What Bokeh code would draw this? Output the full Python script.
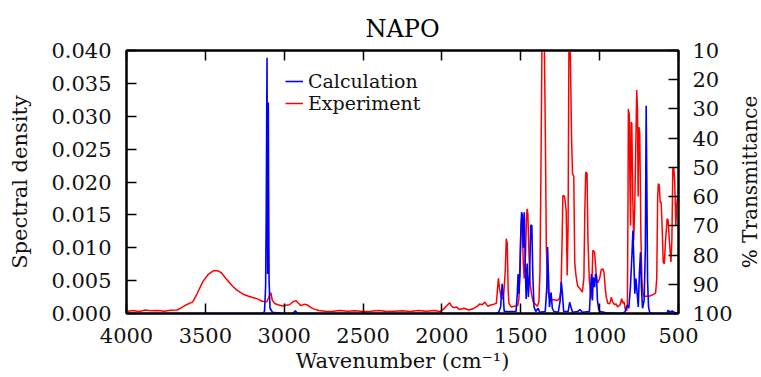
import math
from bokeh.plotting import figure
from bokeh.layouts import row
from bokeh.models import (Range1d, LinearAxis, SingleIntervalTicker, NumeralTickFormatter,
                          Legend, LegendItem, Title)
from bokeh.embed import file_html
from bokeh.resources import INLINE

# ---- data ----
calc_wn = [4000, 3140, 3125, 3118, 3114, 3111, 3109, 3107, 3105, 3103, 3101, 3099, 3096, 3090, 3075,
           3000, 2945, 2930, 2915, 1660, 1640, 1628, 1618, 1612, 1605, 1530, 1522, 1517, 1512, 1506,
           1500, 1495, 1490, 1484, 1478, 1472, 1466, 1459, 1452, 1444, 1437, 1430, 1424, 1416, 1405,
           1390, 1380, 1345, 1335, 1330, 1325, 1318, 1308, 1300, 1290, 1262, 1250, 1243, 1236, 1228,
           1200, 1190, 1182, 1172, 1140, 1125, 1110, 1065, 1058, 1052, 1046, 1040, 1032, 1026, 1020,
           1014, 1005, 995, 960, 870, 840, 825, 815, 805, 795, 789, 783, 777, 770, 762, 755, 748, 741,
           735, 728, 718, 710, 705, 701, 696, 690, 683, 670, 575, 565, 555, 540, 520, 500]
calc_sd = [0, 0, 0.0003, 0.004, 0.015, 0.030, 0.0389, 0.020, 0.006, 0.020, 0.0321, 0.020, 0.005, 0.0008, 0.0002,
           0, 0, 0.0004, 0, 0, 0.0002, 0.0010, 0.0045, 0.0030, 0.0003, 0.0003, 0.0030, 0.0060, 0.0030, 0.0060,
           0.0120, 0.0154, 0.0150, 0.0100, 0.0154, 0.0080, 0.0022, 0.0076, 0.0025, 0.0060, 0.0134, 0.0134, 0.0060, 0.0010, 0.0003,
           0.0008, 0.0002, 0.0003, 0.0040, 0.0101, 0.0060, 0.0010, 0.0032, 0.0008, 0.0003, 0.0002, 0.0020, 0.0048, 0.0030, 0.0003,
           0.0003, 0.0017, 0.0010, 0.0002, 0.0003, 0.0006, 0.0002, 0.0003, 0.0035, 0.0060, 0.0020, 0.0055, 0.0040, 0.0060, 0.0058,
           0.0020, 0.0005, 0.0003, 0.0001, 0, 0.0002, 0.0013, 0.0008, 0.0040, 0.0090, 0.0126, 0.0080, 0.0030, 0.0053, 0.0030, 0.0010, 0.0060, 0.0093,
           0.0040, 0.0008, 0.0020, 0.0100, 0.0316, 0.0200, 0.0050, 0.0010, 0.0002, 0, 0, 0.0005, 0.0002, 0.0004, 0.0001, 0]

exp_wn = [4000, 3960, 3920, 3880, 3840, 3800, 3760, 3720, 3680, 3650, 3620, 3580, 3550, 3515, 3480, 3450,
          3420, 3400, 3370, 3330, 3300, 3260, 3230, 3200, 3170, 3140, 3110, 3095, 3085, 3075, 3060, 3040,
          3010, 2990, 2966, 2945, 2925, 2910, 2894, 2870, 2850, 2830, 2810, 2780, 2740, 2700, 2650, 2600,
          2550, 2500, 2450, 2400, 2350, 2300, 2250, 2200, 2150, 2100, 2050, 2010, 1990, 1960, 1950, 1940,
          1925, 1907, 1890, 1860, 1830, 1800, 1775, 1760, 1745, 1728, 1710, 1685, 1670, 1655, 1648, 1642,
          1636, 1625, 1610, 1598, 1592, 1586, 1580, 1575, 1560, 1540, 1520, 1512, 1505, 1500, 1496, 1490,
          1484, 1478, 1470, 1464, 1460, 1455, 1448, 1440, 1432, 1422, 1410, 1395, 1385, 1378, 1372, 1366,
          1350, 1344, 1338, 1330, 1325, 1315, 1290, 1270, 1255, 1245, 1238, 1233, 1222, 1212, 1206, 1200,
          1195, 1186, 1178, 1172, 1164, 1158, 1150, 1140, 1125, 1110, 1100, 1094, 1088, 1080, 1074, 1066,
          1055, 1048, 1043, 1032, 1024, 1020, 1011, 1000, 990, 980, 972, 965, 958, 948, 937, 930,
          926, 918, 905, 895, 886, 870, 860, 852, 845, 838, 828, 824, 820, 818, 812, 808,
          804, 800, 796, 790, 784, 778, 770, 765, 760, 756, 751, 746, 742, 738, 732, 726,
          718, 705, 690, 674, 660, 652, 645, 638, 632, 628, 622, 616, 610, 604, 597, 590,
          582, 572, 566, 558, 548, 542, 536, 530, 524, 517, 510, 505, 500]
exp_t = [99.3, 99.0, 99.3, 98.8, 99.1, 99.0, 99.2, 98.9, 98.8, 98.0, 97.0, 96.0, 93.0, 89.0, 86.5, 85.4,
         85.4, 86.0, 88.0, 90.5, 92.0, 93.4, 94.0, 94.5, 95.0, 95.8, 96.0, 94.0, 92.9, 95.5, 96.6, 97.0,
         97.4, 97.2, 97.0, 96.0, 95.6, 96.5, 97.3, 96.8, 97.2, 98.0, 98.5, 99.0, 99.2, 99.3, 99.0, 99.2,
         99.1, 99.3, 99.2, 99.0, 99.3, 99.2, 99.1, 99.3, 99.0, 99.2, 99.0, 99.3, 98.5, 96.8, 96.3, 97.5,
         98.0, 97.8, 98.6, 98.2, 98.8, 98.3, 97.5, 96.7, 97.0, 96.1, 97.5, 97.0, 96.8, 96.5, 92.0, 88.0,
         91.0, 94.4, 95.0, 85.0, 74.4, 76.0, 92.0, 96.5, 97.8, 97.5, 97.3, 95.0, 85.0, 72.0, 67.6, 72.0,
         83.0, 88.0, 80.0, 68.0, 64.2, 66.0, 80.0, 90.0, 93.3, 96.0, 96.7, 97.5, 96.0, 85.0, 50.0, 10.0,
         10.0, 40.0, 77.3, 90.0, 93.3, 95.6, 95.2, 95.6, 95.0, 92.0, 75.0, 59.6, 60.0, 65.0, 87.0, 70.0,
         10.6, 10.6, 40.0, 52.2, 53.0, 82.4, 87.0, 90.5, 91.5, 92.7, 88.0, 65.0, 51.6, 52.0, 75.0, 88.0,
         94.9, 88.0, 78.4, 79.0, 85.0, 88.1, 89.5, 88.0, 85.0, 84.7, 86.0, 91.0, 94.4, 96.5, 96.7, 95.5,
         94.4, 96.0, 97.0, 96.7, 97.8, 97.0, 94.9, 96.5, 96.0, 98.5, 99.0, 97.0, 60.0, 30.0, 32.0, 55.0,
         70.0, 34.5, 35.0, 60.0, 75.0, 65.0, 40.0, 23.5, 30.0, 60.0, 36.2, 38.0, 55.0, 75.0, 88.0, 93.0,
         94.4, 94.0, 94.2, 93.8, 93.5, 93.2, 93.0, 88.0, 60.0, 55.6, 56.0, 62.0, 61.9, 70.0, 82.4, 83.0,
         75.0, 67.6, 68.0, 75.0, 82.4, 75.0, 50.5, 50.0, 55.0, 70.0, 62.0, 59.6, 60.0]

title_text = "NAPO"
x_label = "Wavenumber (cm\u207b\u00b9)"
y_label = "Spectral density"
y2_label = "% Transmittance"
series_names = ["Calculation", "Experiment"]

FONT = "DejaVu Serif"
TICK_SIZE = "21px"

p = figure(width=735, height=377, output_backend="svg", toolbar_location=None,
           x_range=Range1d(4000, 500), y_range=Range1d(0, 0.040),
           min_border_left=126, min_border_right=56, min_border_top=50, min_border_bottom=64,
           x_axis_label=x_label, y_axis_label=y_label)
p.extra_y_ranges = {"T": Range1d(100, 10)}

p.grid.visible = False
p.outline_line_color = "black"
p.outline_line_width = 2
p.background_fill_color = "white"
p.border_fill_color = "white"

p.title.text = title_text
p.title.align = "center"
p.title.text_font = FONT
p.title.text_font_size = "24px"
p.title.text_font_style = "normal"
p.title.text_color = "black"
p.title.standoff = 8

def style_axis(ax):
    ax.axis_line_color = "black"
    ax.axis_line_width = 2
    ax.major_tick_in = 10
    ax.major_tick_out = 0
    ax.major_tick_line_width = 1.5
    ax.major_tick_line_color = "black"
    ax.minor_tick_line_color = None
    ax.major_label_text_font = FONT
    ax.major_label_text_font_size = TICK_SIZE
    ax.major_label_text_color = "#111111"
    ax.axis_label_text_font = FONT
    ax.axis_label_text_font_size = TICK_SIZE
    ax.axis_label_text_font_style = "normal"
    ax.axis_label_text_color = "#111111"

xa = p.xaxis[0]
style_axis(xa)
xa.ticker = SingleIntervalTicker(interval=500)
xa.major_label_standoff = 10
xa.axis_label_standoff = 3

ya = p.yaxis[0]
style_axis(ya)
ya.ticker = SingleIntervalTicker(interval=0.005)
ya.formatter = NumeralTickFormatter(format="0.000")
ya.major_label_standoff = 11
ya.axis_label_standoff = 16

ra = LinearAxis(y_range_name="T")
style_axis(ra)
ra.ticker = SingleIntervalTicker(interval=10)
ra.major_label_standoff = 10
p.add_layout(ra, "right")

ta = LinearAxis(ticker=SingleIntervalTicker(interval=500))
style_axis(ta)
ta.major_label_text_font_size = "1px"
ta.major_label_text_color = None
ta.major_label_standoff = 0
p.add_layout(ta, "above")

r_exp = p.line(exp_wn, exp_t, y_range_name="T", line_color="#ff0000", line_width=1.5)
r_calc = p.line(calc_wn, calc_sd, line_color="#0000ff", line_width=1.6)

legend = Legend(items=[LegendItem(label=series_names[0], renderers=[r_calc]),
                       LegendItem(label=series_names[1], renderers=[r_exp])],
                location=(159, 199))
legend.border_line_color = None
legend.background_fill_alpha = 0
legend.padding = 0
legend.margin = 0
legend.spacing = 0
legend.glyph_width = 18
legend.glyph_height = 22
legend.label_height = 22
legend.label_standoff = 5
legend.label_text_font = FONT
legend.label_text_font_size = "19px"
legend.label_text_color = "#111111"
p.add_layout(legend)

# narrow strip on the right carrying the right-hand axis title (reads bottom to top)
p2 = figure(width=26, height=377, output_backend="svg", toolbar_location=None,
            x_axis_location=None, y_axis_location=None,
            min_border_left=0, min_border_right=0, min_border_top=0, min_border_bottom=14)
p2.grid.visible = False
p2.outline_line_color = None
p2.border_fill_color = "white"
p2.background_fill_color = "white"
p2.title.visible = False
p2.add_layout(Title(text=y2_label, align="center", text_font=FONT, text_font_size="20px",
                    text_font_style="normal", text_color="#111111", standoff=0, offset=0), "left")

layout = row(p, p2, spacing=0)

open("out.html", "w").write(file_html(layout, INLINE))
